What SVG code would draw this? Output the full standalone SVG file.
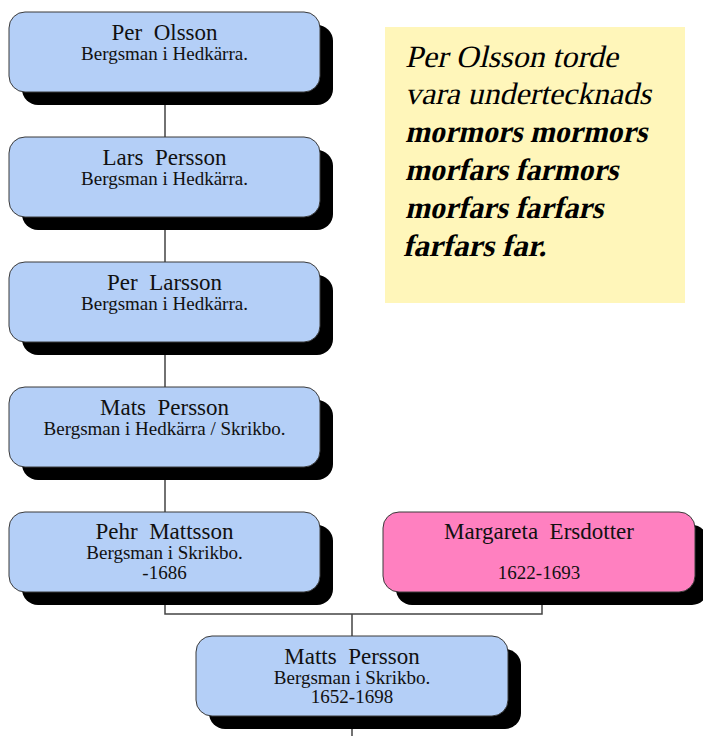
<svg xmlns="http://www.w3.org/2000/svg" width="703" height="736" viewBox="0 0 703 736">
<style>
.shadow{fill:#000}
.box{fill:#b4cff7;stroke:#3a3a3a;stroke-width:1}
.pink{fill:#ff80c0;stroke:#3a3a3a;stroke-width:1}
.name{font-family:"Liberation Serif","Times New Roman",serif;font-size:23px;fill:#111;text-anchor:middle;white-space:pre}
.sub{font-family:"Liberation Serif","Times New Roman",serif;font-size:19px;fill:#111;text-anchor:middle;white-space:pre}
.conn{stroke:#444;stroke-width:1.5;fill:none}
.note{font-family:"Liberation Serif","Times New Roman",serif;font-size:31px;fill:#000}
.b{font-weight:bold}
</style>
<rect width="703" height="736" fill="#fff"/>
<g id="connectors">
<path class="conn" d="M165 92V137M165 217V262M165 342V387M165 467V512M165 592V614H542V592M352 614V636M352 716V736"/>
</g>
<g id="n1">
<rect class="shadow" x="22" y="25" width="311" height="80" rx="16"/>
<rect class="box" x="9" y="12" width="311" height="80" rx="16"/>
<text class="name" x="164.5" y="40" xml:space="preserve">Per  Olsson</text>
<text class="sub" x="164.5" y="60">Bergsman i Hedkärra.</text>
</g>
<g id="n2">
<rect class="shadow" x="22" y="150" width="311" height="80" rx="16"/>
<rect class="box" x="9" y="137" width="311" height="80" rx="16"/>
<text class="name" x="164.5" y="165" xml:space="preserve">Lars  Persson</text>
<text class="sub" x="164.5" y="185">Bergsman i Hedkärra.</text>
</g>
<g id="n3">
<rect class="shadow" x="22" y="275" width="311" height="80" rx="16"/>
<rect class="box" x="9" y="262" width="311" height="80" rx="16"/>
<text class="name" x="164.5" y="290" xml:space="preserve">Per  Larsson</text>
<text class="sub" x="164.5" y="310">Bergsman i Hedkärra.</text>
</g>
<g id="n4">
<rect class="shadow" x="22" y="400" width="311" height="80" rx="16"/>
<rect class="box" x="9" y="387" width="311" height="80" rx="16"/>
<text class="name" x="164.5" y="415" xml:space="preserve">Mats  Persson</text>
<text class="sub" x="164.5" y="435">Bergsman i Hedkärra / Skrikbo.</text>
</g>
<g id="n5">
<rect class="shadow" x="22" y="525" width="311" height="80" rx="16"/>
<rect class="box" x="9" y="512" width="311" height="80" rx="16"/>
<text class="name" x="164.5" y="539" xml:space="preserve">Pehr  Mattsson</text>
<text class="sub" x="164.5" y="559">Bergsman i Skrikbo.</text>
<text class="sub" x="164.5" y="579">-1686</text>
</g>
<g id="n6">
<rect class="shadow" x="396" y="525" width="312" height="80" rx="16"/>
<rect class="pink" x="383" y="512" width="312" height="80" rx="16"/>
<text class="name" x="539" y="539" xml:space="preserve">Margareta  Ersdotter</text>
<text class="sub" x="539" y="579">1622-1693</text>
</g>
<g id="n7">
<rect class="shadow" x="209" y="649" width="312" height="80" rx="16"/>
<rect class="box" x="196" y="636" width="312" height="80" rx="16"/>
<text class="name" x="352" y="664" xml:space="preserve">Matts  Persson</text>
<text class="sub" x="352" y="684">Bergsman i Skrikbo.</text>
<text class="sub" x="352" y="703">1652-1698</text>
</g>
<g id="note">
<rect x="385" y="27" width="300" height="276" fill="#fff6ba"/>
<text class="note" transform="translate(405,67) skewX(-13)" textLength="213" lengthAdjust="spacingAndGlyphs">Per Olsson torde</text>
<text class="note" transform="translate(405,104) skewX(-13)" textLength="246" lengthAdjust="spacingAndGlyphs">vara undertecknads</text>
<text class="note b" transform="translate(405,142) skewX(-13)" textLength="242" lengthAdjust="spacingAndGlyphs">mormors mormors</text>
<text class="note b" transform="translate(405,180) skewX(-13)" textLength="213" lengthAdjust="spacingAndGlyphs">morfars farmors</text>
<text class="note b" transform="translate(405,218) skewX(-13)" textLength="198" lengthAdjust="spacingAndGlyphs">morfars farfars</text>
<text class="note b" transform="translate(403,256) skewX(-13)" textLength="143" lengthAdjust="spacingAndGlyphs">farfars far.</text>
</g>
</svg>
